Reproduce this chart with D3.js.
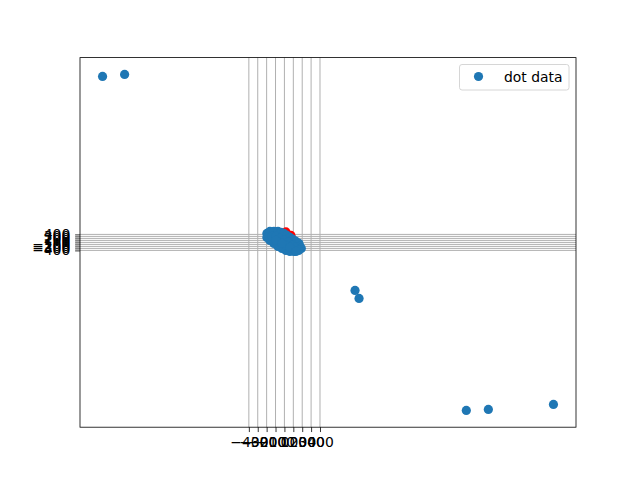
<!DOCTYPE html>
<html>
<head>
<meta charset="utf-8">
<script src="https://d3js.org/d3.v7.min.js"></script>
<style>
  body { margin: 0; background: #fff; }
  svg { display: block; font-family: "DejaVu Sans", sans-serif; }
</style>
</head>
<body>
<svg id="chart" width="640" height="480"></svg>
<script>
// Blue "dot data" series (x values, y values)
const dotX = [-2045, -1797, 794, 839, 2045, 2293, 3025,
  -197, -163, -118, -73, -39, -6, 28, 62, 96, 130, 163, 175, 152, 107, 62, 17, -28, -73, -118, -163, -197,
  -141, -96, -51, -6, 39, 85, 17, 118, -96, -28, 62, 190, 160, 130];
const dotY = [8300, 8400, -2400, -2800, -8400, -8350, -8100,
  450, 550, 550, 550, 500, 450, 350, 250, 150, 50, -50, -200, -350, -450, -450, -400, -300, -200, -50, 100, 250,
  300, 300, 200, 100, 0, -150, -150, -250, 100, -50, -250, -300, -400, -450];
// Red series drawn underneath
const redX = [17, 73];
const redY = [525, 350];
// Tick values
const xTicks = [-400, -300, -200, -100, 0, 100, 200, 300, 400];
const yTicks = [-400, -300, -200, -100, 0, 100, 200, 300, 400];
const legendLabel = "dot data";

const svg = d3.select("#chart");
const L = 80, R = 576, T = 57.6, B = 427.2;

const allX = dotX.concat(redX), allY = dotY.concat(redY);
const [x0, x1] = d3.extent(allX), [y0, y1] = d3.extent(allY);
const mx = (x1 - x0) * 0.05, my = (y1 - y0) * 0.05;
const x = d3.scaleLinear().domain([x0 - mx, x1 + mx]).range([L, R]);
const y = d3.scaleLinear().domain([y0 - my, y1 + my]).range([B, T]);

const fmt = d => (d < 0 ? "\u2212" + Math.abs(d) : String(d));

// grid
const grid = svg.append("g");
grid.selectAll(".gx").data(xTicks).enter().append("line")
  .attr("x1", d => x(d)).attr("x2", d => x(d)).attr("y1", T).attr("y2", B)
  .attr("stroke", "#b0b0b0").attr("stroke-width", 1);
grid.selectAll(".gy").data(yTicks).enter().append("line")
  .attr("y1", d => y(d)).attr("y2", d => y(d)).attr("x1", L).attr("x2", R)
  .attr("stroke", "#b0b0b0").attr("stroke-width", 1);

// points
const pts = svg.append("g");
pts.selectAll(".r").data(redX.map((v, i) => [v, redY[i]])).enter().append("circle")
  .attr("cx", d => x(d[0])).attr("cy", d => y(d[1])).attr("r", 4.6).attr("fill", "#ff0000");
pts.selectAll(".b").data(dotX.map((v, i) => [v, dotY[i]])).enter().append("circle")
  .attr("cx", d => x(d[0])).attr("cy", d => y(d[1])).attr("r", 4.6).attr("fill", "#1f77b4");

// axes
const xa = svg.append("g").attr("transform", `translate(0,${B})`)
  .call(d3.axisBottom(x).tickValues(xTicks).tickFormat(fmt).tickSize(4.86).tickPadding(4.86));
const ya = svg.append("g").attr("transform", `translate(${L},0)`)
  .call(d3.axisLeft(y).tickValues(yTicks).tickFormat(fmt).tickSize(4.86).tickPadding(4.86));
[xa, ya].forEach(a => {
  a.select(".domain").remove();
  a.selectAll(".tick line").attr("stroke", "#000").attr("stroke-width", 0.8);
  a.selectAll(".tick text").attr("fill", "#000").style("font-size", "13.9px")
    .style("font-family", "DejaVu Sans");
});

// frame
svg.append("rect").attr("x", L).attr("y", T).attr("width", R - L).attr("height", B - T)
  .attr("fill", "none").attr("stroke", "#000").attr("stroke-width", 0.8);

// legend
const lg = svg.append("g");
lg.append("rect").attr("x", 459.5).attr("y", 64.5).attr("width", 109.5).attr("height", 25.5)
  .attr("rx", 2.5).attr("fill", "#fff").attr("fill-opacity", 0.8)
  .attr("stroke", "#cccccc").attr("stroke-width", 0.8);
lg.append("circle").attr("cx", 478.5).attr("cy", 76.5).attr("r", 4.6).attr("fill", "#1f77b4");
lg.append("text").attr("x", 504).attr("y", 81.5).text(legendLabel)
  .style("font-size", "13.9px").attr("fill", "#000");
</script>
</body>
</html>
